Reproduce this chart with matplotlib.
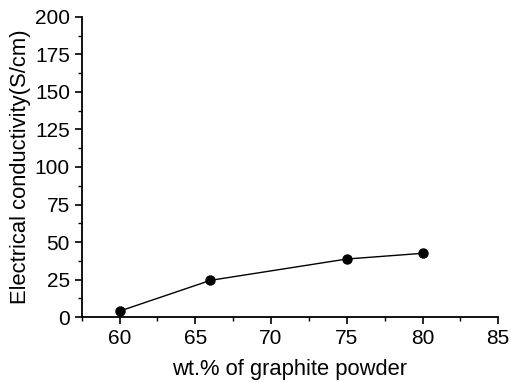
import matplotlib
matplotlib.use("Agg")
import matplotlib.pyplot as plt
from matplotlib.ticker import MultipleLocator

plt.rcParams['font.family'] = ['Liberation Sans', 'DejaVu Sans']

graphite = [60, 66, 75, 80]
conductivity = [4, 24.5, 38.7, 42.5]

fig = plt.figure(figsize=(5.11, 3.83), dpi=100)
ax = fig.add_axes([0.160, 0.172, 0.815, 0.784])

ax.plot(graphite, conductivity, color='black', lw=1.0, marker='o', ms=6.5)

ax.set_xlim(57.5, 85)
ax.set_ylim(0, 200)
ax.xaxis.set_major_locator(MultipleLocator(5))
ax.xaxis.set_minor_locator(MultipleLocator(2.5))
ax.yaxis.set_major_locator(MultipleLocator(25))
ax.yaxis.set_minor_locator(MultipleLocator(12.5))

ax.spines['top'].set_visible(False)
ax.spines['right'].set_visible(False)
ax.spines['left'].set_linewidth(1.3)
ax.spines['bottom'].set_linewidth(1.3)
ax.tick_params(which='major', direction='out', length=5, width=1.2, labelsize=15)
ax.tick_params(which='minor', direction='out', length=3, width=1.0)

ax.set_xlabel('wt.% of graphite powder', fontsize=15.8, labelpad=8)
ax.set_ylabel('Electrical conductivity(S/cm)', fontsize=15.8, labelpad=3)

fig.savefig('out.png', dpi=100)
